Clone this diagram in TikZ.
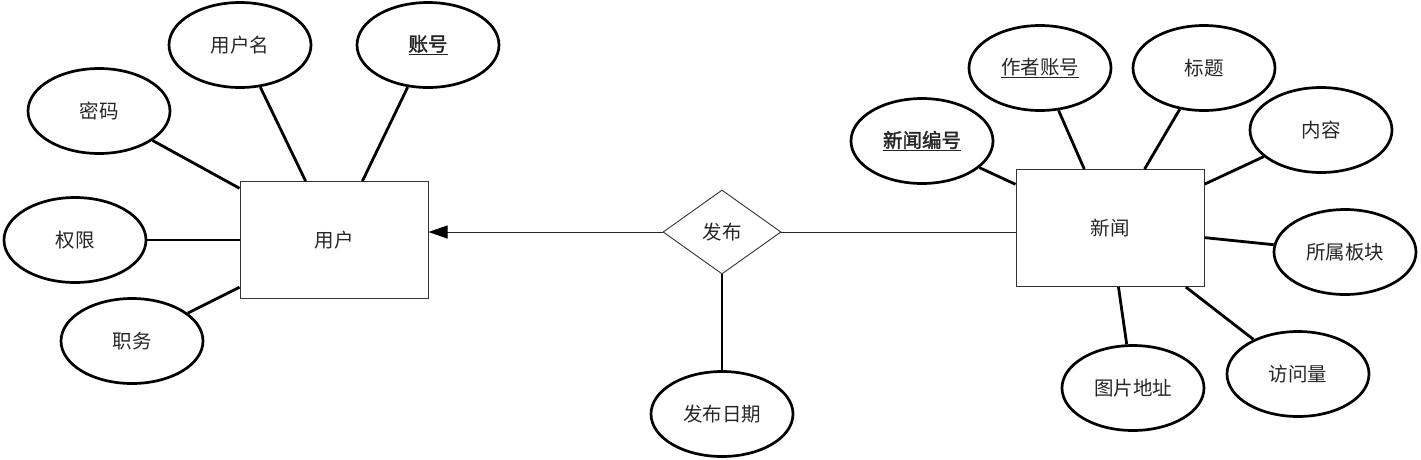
\documentclass[tikz,border=0pt]{standalone}
\usepackage{fontspec}
\setmainfont{Noto Sans CJK SC}
\newfontfamily\cjkbold[FakeBold=2]{Noto Sans CJK SC}
\usetikzlibrary{shapes.geometric,arrows.meta}
\begin{document}
\begin{tikzpicture}[x=1pt,y=-1pt,
  attr/.style={ellipse,draw=black,line width=2.7pt,minimum width=142pt,minimum height=85pt,inner sep=0pt,font=\fontsize{19.5pt}{22pt}\selectfont,text=black!85},
  ent/.style={rectangle,draw=black!80,line width=1pt,minimum width=188pt,minimum height=117pt,inner sep=0pt,font=\fontsize{19.5pt}{22pt}\selectfont,text=black!85},
  rel/.style={diamond,draw=black!80,line width=0.9pt,minimum width=118pt,minimum height=84pt,inner sep=0pt,font=\fontsize{19.5pt}{22pt}\selectfont,text=black!85},
  link/.style={line width=2.8pt,black},
  rlink/.style={line width=0.9pt,black!85}]
\useasboundingbox (0,0) rectangle (1421,459);
% entities
\node[ent] (user) at (334,240) {用户};
\node[ent] (news) at (1110,228) {新闻};
\node[rel] (pub) at (722,232) {发布};
% user attributes
\node[attr] (uname) at (240,45) {用户名};
\node[attr] (acct) at (428,45) {\cjkbold\underline{账号}};
\node[attr] (pwd) at (99,111) {密码};
\node[attr] (perm) at (75,240) {权限};
\node[attr] (duty) at (132,341) {职务};
% news attributes
\node[attr] (nid) at (922,141) {\cjkbold\underline{新闻编号}};
\node[attr] (author) at (1040,68) {\underline{作者账号}};
\node[attr] (title) at (1204,68) {标题};
\node[attr] (content) at (1321,130) {内容};
\node[attr] (board) at (1345,252) {所属板块};
\node[attr] (visits) at (1298,374) {访问量};
\node[attr] (pic) at (1133,388) {图片地址};
% relation attribute
\node[attr] (date) at (722,414) {发布日期};
% connectors
\foreach \a in {uname,acct,pwd,perm,duty} \draw[link] (\a) -- (user);
\foreach \a in {nid,author,title,content,board,visits,pic} \draw[link] (\a) -- (news);
\draw[link] (pub) -- (date);
\coordinate (uend) at (pub.west -| user.east);
\coordinate (nend) at (pub.east -| news.west);
\draw[rlink,-{Triangle[length=19pt,width=13pt,fill=black,color=black]}] (pub.west) -- (uend);
\draw[rlink] (pub.east) -- (nend);
\end{tikzpicture}
\end{document}
